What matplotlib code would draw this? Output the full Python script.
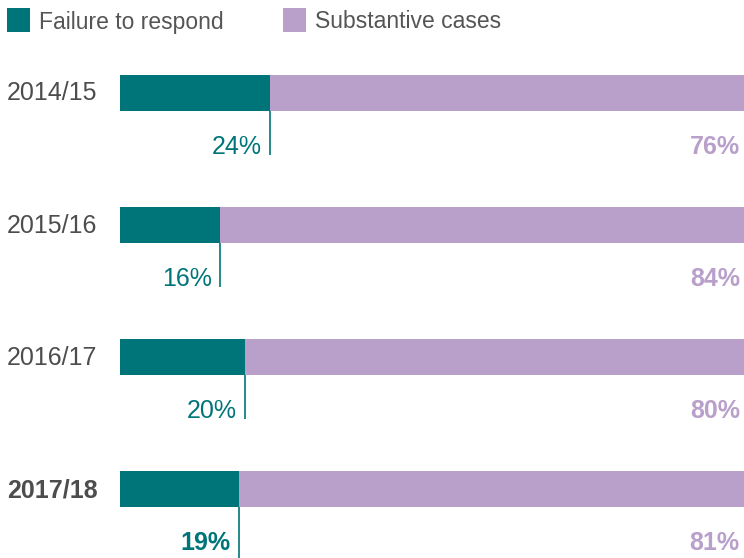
import matplotlib
matplotlib.use("Agg")
import matplotlib.pyplot as plt
from matplotlib.patches import Rectangle

years = ["2014/15", "2015/16", "2016/17", "2017/18"]
failure = [24, 16, 20, 19]
substantive = [76, 84, 80, 81]
highlight = [False, False, False, True]

TEAL = "#007579"
PURPLE = "#B9A0CB"
GREY = "#4D4D4D"

plt.rcParams["font.family"] = ["Liberation Sans", "DejaVu Sans"]

W, H = 744, 558
fig = plt.figure(figsize=(W / 100, H / 100), dpi=100)

# axes spans x pixels 120..744 and y pixels 60..558
top_px, bot_px = 60, 558
ax = fig.add_axes([120 / W, 0, 1 - 120 / W, (bot_px - top_px) / H])
unit = 132.0
y0 = -(93 - top_px) / unit
y1 = 3 + (bot_px - 489) / unit
ax.set_ylim(y1, y0)
ax.set_xlim(0, 100)
ax.axis("off")

bar_h = 36 / unit
pos = list(range(len(years)))
ax.barh(pos, failure, height=bar_h, color=TEAL, linewidth=0)
ax.barh(pos, substantive, left=failure, height=bar_h, color=PURPLE, linewidth=0)

fs = 18
for i, (yr, f, s, hl) in enumerate(zip(years, failure, substantive, highlight)):
    weight = "bold" if hl else "normal"
    # category label on the left
    fig.text(7 / W, 1 - (93 + i * unit + (1 if i else 0)) / H, yr, ha="left", va="center",
             fontsize=fs, color=GREY, fontweight=weight)
    # leader line from the split point
    line_end = i + (62 if i < 3 else 70) / unit
    ax.vlines(f, i + bar_h / 2, line_end, color=TEAL, linewidth=1.2)
    ax.annotate(f"{f}%", xy=(f, i + 61 / unit), xytext=(-6, 0),
                textcoords="offset points", ha="right", va="baseline",
                fontsize=fs, color=TEAL, fontweight=weight)
    ax.annotate(f"{s}%", xy=(100, i + 61 / unit), xytext=(-3, 0),
                textcoords="offset points", ha="right", va="baseline",
                fontsize=fs, color=PURPLE, fontweight="bold")

# legend
legend_items = [("Failure to respond", TEAL, 7), ("Substantive cases", PURPLE, 283)]
for label, col, x in legend_items:
    fig.patches.append(Rectangle((x / W, 1 - 32 / H), 23 / W, 24 / H,
                                 transform=fig.transFigure, color=col, linewidth=0))
    fig.text((x + 32) / W, 1 - 22 / H, label, ha="left", va="center",
             fontsize=16.5, color="#555555")

fig.savefig("out.png", dpi=100)
